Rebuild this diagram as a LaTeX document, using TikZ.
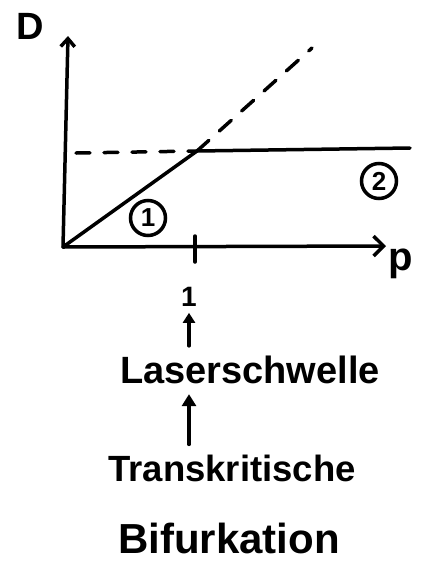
\documentclass[tikz,border=0pt]{standalone}
\usepackage{fontspec}
\setmainfont{Liberation Sans}
\usetikzlibrary{arrows.meta,positioning}
\tikzset{
  stroke/.style={line width=3.5pt,line cap=round,line join=round},
  circnum/.style={draw,circle,line width=3.5pt,inner sep=0pt,minimum size=35pt,font=\bfseries\fontsize{26}{28}\selectfont},
  hand/.style={inner sep=0pt,font=\bfseries\fontsize{38}{42}\selectfont}
}
\begin{document}
\begin{tikzpicture}[x=1pt,y=-1pt]
\useasboundingbox (0,0) rectangle (425,582);
% axes
\coordinate (O) at (63,247);
\coordinate (ytop) at (68,36);
\coordinate (xend) at (386,246);
\coordinate (knee) at (197,151);
\coordinate (dstart) at (76,153);
\coordinate (dend) at (312,48);
\coordinate (hend) at (410,148);
\node[hand,font=\bfseries\fontsize{38}{42}\selectfont] (D) at (30,26) {D};
\node[hand,font=\bfseries\fontsize{40}{44}\selectfont] (p) at (401,264) {p};
\draw[stroke,-{Straight Barb[length=8pt,width=14pt]}] (O) -- (ytop);
\draw[stroke,-{Straight Barb[length=10pt,width=20pt]}] (O) -- (xend);
% tick at threshold
\coordinate (tickt) at (195,236);
\coordinate (tickb) at (195,262);
\draw[stroke] (tickt) -- (tickb);
% branches
\draw[stroke] (O) -- (knee) -- (hend);
\draw[stroke,dash pattern=on 14pt off 14pt] (dstart) -- (knee);
\draw[stroke,dash pattern=on 16pt off 14pt] (knee) -- (dend);
\node[circnum] (one) at (148,218) {1};
\node[circnum] (two) at (379,181) {2};
% labels below
\node[hand,font=\bfseries\fontsize{28}{30}\selectfont] (thr) at (189,297) {1};
\node[hand] (schwelle) at (250,370) {Laserschwelle};
\node[hand,font=\bfseries\fontsize{36.5}{40}\selectfont] (trans) at (232,468) {Transkritische};
\node[hand,font=\bfseries\fontsize{42}{46}\selectfont] (bifu) at (229,538) {Bifurkation};
\draw[stroke,-{Triangle[length=10pt,width=12pt]}] ([yshift=10pt]schwelle.north -| thr) -- ([yshift=-6pt]thr.south);
\draw[stroke,-{Triangle[length=12pt,width=14pt]}] ([yshift=10pt]trans.north -| thr) -- ([yshift=-10pt]schwelle.south -| thr);
\end{tikzpicture}
\end{document}
